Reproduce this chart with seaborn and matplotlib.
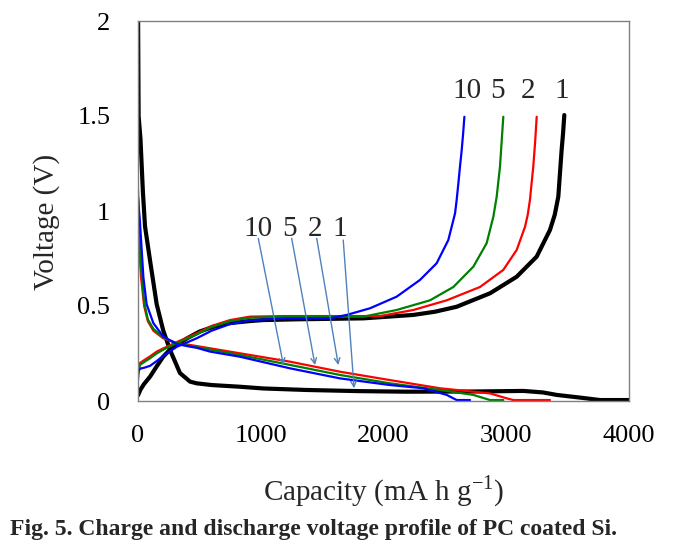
import numpy as np
import pandas as pd
import matplotlib
matplotlib.use("Agg")
import matplotlib.pyplot as plt
import seaborn as sns

# cycle 1 (black)
c1_dis_x = [0, 5, 20, 40, 57, 98, 152, 206, 260, 342, 424, 478, 600, 831, 1020, 1374, 1800, 2189, 2732, 3139, 3300, 3411, 3600, 3764, 4000]
c1_dis_v = [2.1, 1.5, 1.38, 1.1, 0.92, 0.74, 0.51, 0.37, 0.27, 0.147, 0.102, 0.093, 0.084, 0.075, 0.066, 0.058, 0.052, 0.049, 0.05, 0.053, 0.045, 0.032, 0.018, 0.005, 0.005]
c1_chg_x = [0, 20, 50, 98, 150, 205, 260, 315, 400, 500, 611, 750, 900, 1020, 1300, 1836, 2243, 2420, 2596, 2868, 3085, 3248, 3356, 3395, 3424, 3451, 3463, 3473]
c1_chg_v = [0.03, 0.06, 0.09, 0.128, 0.18, 0.233, 0.27, 0.295, 0.33, 0.365, 0.39, 0.41, 0.42, 0.426, 0.43, 0.435, 0.453, 0.47, 0.496, 0.567, 0.654, 0.76, 0.9, 0.98, 1.075, 1.32, 1.41, 1.505]

# cycle 2 (red)
c2_dis_x = [0, 10, 25, 50, 80, 125, 205, 315, 424, 831, 1238, 1646, 2053, 2460, 2732, 2868, 3004, 3058, 3356]
c2_dis_v = [0.88, 0.8, 0.65, 0.5, 0.42, 0.37, 0.33, 0.305, 0.295, 0.251, 0.207, 0.154, 0.11, 0.067, 0.049, 0.04, 0.014, 0.005, 0.005]
c2_chg_x = [0, 8, 16, 50, 98, 152, 200, 315, 478, 600, 750, 912, 1200, 1500, 1971, 2243, 2515, 2786, 2976, 3085, 3153, 3175, 3193, 3220, 3235, 3248]
c2_chg_v = [0.11, 0.17, 0.2, 0.215, 0.235, 0.26, 0.275, 0.31, 0.356, 0.395, 0.426, 0.444, 0.447, 0.447, 0.447, 0.479, 0.53, 0.60, 0.69, 0.795, 0.917, 0.98, 1.058, 1.233, 1.36, 1.496]

# cycle 5 (green)
c5_dis_x = [0, 10, 25, 50, 80, 125, 205, 315, 424, 831, 1238, 1646, 2053, 2460, 2732, 2868, 2976]
c5_dis_v = [1.11, 0.95, 0.7, 0.52, 0.43, 0.38, 0.335, 0.302, 0.29, 0.242, 0.19, 0.137, 0.093, 0.058, 0.032, 0.005, 0.005]
c5_chg_x = [0, 8, 16, 50, 98, 152, 200, 315, 478, 600, 750, 912, 1200, 1500, 1836, 2107, 2379, 2569, 2732, 2840, 2895, 2922, 2949, 2962, 2976]
c5_chg_v = [0.14, 0.17, 0.19, 0.205, 0.225, 0.25, 0.268, 0.305, 0.35, 0.39, 0.42, 0.438, 0.443, 0.444, 0.444, 0.479, 0.53, 0.60, 0.707, 0.83, 0.97, 1.075, 1.233, 1.36, 1.496]

# cycle 10 (blue)
c10_dis_x = [0, 16, 44, 70, 125, 205, 315, 424, 478, 587, 831, 1238, 1646, 2053, 2325, 2515, 2596, 2705]
c10_dis_v = [1.07, 0.94, 0.65, 0.51, 0.41, 0.34, 0.30, 0.286, 0.28, 0.26, 0.233, 0.172, 0.119, 0.084, 0.067, 0.032, 0.005, 0.005]
c10_chg_x = [0, 8, 16, 50, 98, 152, 200, 315, 478, 600, 750, 912, 1200, 1564, 1700, 1890, 2107, 2297, 2433, 2528, 2583, 2596, 2610, 2623, 2637, 2649, 2659]
c10_chg_v = [0.15, 0.16, 0.17, 0.175, 0.185, 0.21, 0.235, 0.285, 0.33, 0.37, 0.405, 0.425, 0.435, 0.435, 0.453, 0.488, 0.549, 0.637, 0.725, 0.847, 0.988, 1.058, 1.146, 1.233, 1.32, 1.41, 1.496]

cycle_labels = ['10', '5', '2', '1']
# label text positions (capacity) for the charge end labels and the discharge arrows
top_label_x = [2680, 2925, 3177, 3454]
top_label_v = 1.595
arrow_label_x = [978, 1238, 1442, 1646]
arrow_label_v = 0.87
arrow_tail = [(980, 0.856), (1252, 0.856), (1456, 0.856), (1672, 0.847)]
arrow_head = [(1185, 0.189), (1442, 0.189), (1632, 0.189), (1760, 0.067)]

sns.set_style("white")
plt.rcParams['font.family'] = ['Liberation Serif', 'DejaVu Serif']
plt.rcParams['mathtext.fontset'] = 'custom'
plt.rcParams['mathtext.rm'] = 'Liberation Serif'

fig = plt.figure(figsize=(6.78, 5.5), dpi=100)
ax = fig.add_axes([138 / 678, 149 / 550, 491 / 678, 380 / 550])

series = [
    (c1_dis_x, c1_dis_v, 'black', 3.0),
    (c1_chg_x, c1_chg_v, 'black', 3.0),
    (c2_dis_x, c2_dis_v, '#ff0000', 1.6),
    (c2_chg_x, c2_chg_v, '#ff0000', 1.6),
    (c5_dis_x, c5_dis_v, '#008000', 1.6),
    (c5_chg_x, c5_chg_v, '#008000', 1.6),
    (c10_dis_x, c10_dis_v, '#0000ff', 1.6),
    (c10_chg_x, c10_chg_v, '#0000ff', 1.6),
]
for xs, vs, col, lw in series:
    df = pd.DataFrame({'cap': xs, 'volt': vs})
    sns.lineplot(data=df, x='cap', y='volt', color=col, linewidth=lw,
                 sort=False, estimator=None, ax=ax)

ax.set_xlim(0, 4000)
ax.set_ylim(0, 2)
ax.set_xticks(np.arange(0, 4001, 500))
ax.set_xticklabels([str(int(t)) if t % 1000 == 0 else '' for t in np.arange(0, 4001, 500)])
ax.set_yticks(np.arange(0, 2.01, 0.25))
ax.set_yticklabels(['0', '', '0.5', '', '1', '', '1.5', '', '2'])
ax.tick_params(axis='both', direction='out', length=7, width=1, color='#808080',
               labelsize=19, labelcolor='black')
ax.tick_params(axis='x', pad=10)
ax.tick_params(axis='y', pad=13)
for s in ax.spines.values():
    s.set_color('#808080')
    s.set_linewidth(1)

ax.set_xlabel(r'Capacity (mA h g$^{\mathregular{-1}}$)', fontsize=21, va='top')
ax.xaxis.set_label_coords(0.5, -0.19)
ax.set_ylabel('Voltage (V)', fontsize=21, va='center')
ax.yaxis.set_label_coords(-0.187, 0.47)

for lab, tx in zip(cycle_labels, top_label_x):
    ax.text(tx, top_label_v, lab, fontsize=21, ha='center', va='baseline')
for lab, tx in zip(cycle_labels, arrow_label_x):
    ax.text(tx, arrow_label_v, lab, fontsize=21, ha='center', va='baseline')
for tail, head in zip(arrow_tail, arrow_head):
    ax.annotate('', xy=head, xytext=tail,
                arrowprops=dict(arrowstyle='->', color='#4f81bd', lw=1,
                                shrinkA=0, shrinkB=0, mutation_scale=10))

fig.text(10 / 678, 20 / 550, 'Fig. 5. Charge and discharge voltage profile of PC coated Si.',
         fontsize=17, fontweight='bold', ha='left', va='center')

fig.savefig('out.png', dpi=100)
